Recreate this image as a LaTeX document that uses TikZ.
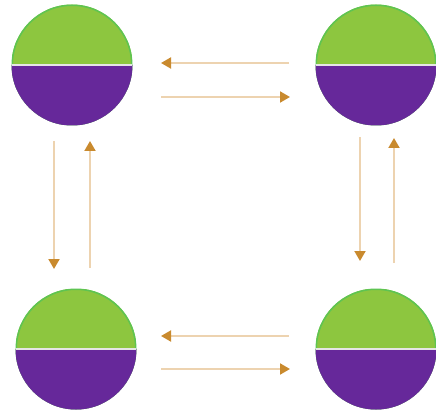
\documentclass[tikz,border=0pt]{standalone}
\usetikzlibrary{arrows.meta}
\definecolor{lgreen}{HTML}{8DC63F}
\definecolor{gborder}{HTML}{5EC452}
\definecolor{dpurple}{HTML}{66289A}
\definecolor{arrowc}{HTML}{C98A2E}
\definecolor{linec}{HTML}{EDD3B0}
\begin{document}
\begin{tikzpicture}[x=1pt,y=-1pt,
  ball/.style={circle,minimum size=121pt,inner sep=0pt,
    path picture={
      \fill[dpurple] (path picture bounding box.west) rectangle (path picture bounding box.south east);
      \fill[lgreen] (path picture bounding box.north west) rectangle (path picture bounding box.east);
      \draw[gborder,line width=3pt] (path picture bounding box.center) circle[radius=60.5pt];
      \fill[dpurple] (path picture bounding box.center) ++(-62,0) rectangle ++(124,62);
      \draw[white!80!gray,line width=1.8pt] (path picture bounding box.west) -- (path picture bounding box.east);
    }},
  arr/.style={draw=linec,line width=1.9pt,-{Triangle[length=10pt,width=11pt,color=arrowc,fill=arrowc]}}]
\useasboundingbox (0,0) rectangle (436,414);
\node[ball] (tl) at (72,65) {};
\node[ball] (tr) at (376,65) {};
\node[ball] (bl) at (76,349) {};
\node[ball] (br) at (376,349) {};
% top arrows
\coordinate (t1s) at (289,63); \coordinate (t1e) at (161,63);
\coordinate (t2s) at (161,97); \coordinate (t2e) at (290,97);
\draw[arr] (t1s) -- (t1e);
\draw[arr] (t2s) -- (t2e);
% bottom arrows
\coordinate (b1s) at (289,336); \coordinate (b1e) at (161,336);
\coordinate (b2s) at (161,369); \coordinate (b2e) at (290,369);
\draw[arr] (b1s) -- (b1e);
\draw[arr] (b2s) -- (b2e);
% left arrows
\coordinate (l1s) at (54,141); \coordinate (l1e) at (54,269);
\coordinate (l2s) at (90,268); \coordinate (l2e) at (90,141);
\draw[arr] (l1s) -- (l1e);
\draw[arr] (l2s) -- (l2e);
% right arrows
\coordinate (r1s) at (360,137); \coordinate (r1e) at (360,261);
\coordinate (r2s) at (394,263); \coordinate (r2e) at (394,138);
\draw[arr] (r1s) -- (r1e);
\draw[arr] (r2s) -- (r2e);
\end{tikzpicture}
\end{document}
